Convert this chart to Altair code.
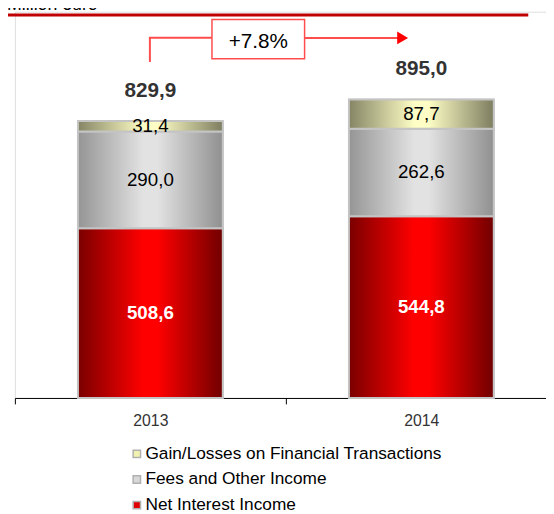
import altair as alt
import pandas as pd

FONT = "Liberation Sans"

years = ["2013", "2014"]
series = ["Gain/Losses on Financial Transactions", "Fees and Other Income", "Net Interest Income"]
net_interest = [508.6, 544.8]
fees = [290.0, 262.6]
gains = [31.4, 87.7]
totals = [829.9, 895.0]
growth_label = ["+7.8%"]
unit_label = ["Million euro"]

rows = []
for i, yr in enumerate(years):
    rows.append({"year": yr, "series": series[2], "value": net_interest[i], "order": 0})
    rows.append({"year": yr, "series": series[1], "value": fees[i], "order": 1})
    rows.append({"year": yr, "series": series[0], "value": gains[i], "order": 2})
df = pd.DataFrame(rows)
tot_df = pd.DataFrame({"year": years, "total": totals})

x_scale = alt.Scale(domain=years, paddingInner=0.4655, paddingOuter=0.2127, align=0.547)
y_scale = alt.Scale(domain=[0, 1158], nice=False, zero=True)

x_enc = alt.X(
    "year:N",
    scale=x_scale,
    axis=alt.Axis(
        title=None, labelAngle=0, domainColor="black", tickColor="black",
        tickSize=6, tickOffset=-137.5, labelOffset=137.5,
        labelFontSize=16, labelColor="#333333", labelFont=FONT, labelPadding=9,
        domainWidth=1, tickWidth=1, grid=False,
    ),
)

base = alt.Chart(df).transform_stack(
    stack="value", groupby=["year"], as_=["y0", "y1"],
    sort=[alt.SortField("order", order="ascending")],
).transform_calculate(
    mid="(datum.y0 + datum.y1) / 2",
    label="replace(format(datum.value, '.1f'), '.', ',')",
)


def grad(edge_l, center, edge_r, c0=0.45, c1=0.55):
    return alt.Gradient(
        gradient="linear", x1=0, x2=1, y1=0, y2=0,
        stops=[
            alt.GradientStop(offset=0, color=edge_l),
            alt.GradientStop(offset=c0, color=center),
            alt.GradientStop(offset=c1, color=center),
            alt.GradientStop(offset=1, color=edge_r),
        ],
    )


legend_layer = base.mark_bar(stroke="#b0b0b0", strokeWidth=1.5).encode(
    x=x_enc,
    y=alt.Y("y0:Q", scale=y_scale, axis=None),
    y2="y1:Q",
    fill=alt.Fill(
        "series:N",
        scale=alt.Scale(domain=series, range=["#f2f2b0", "#d8d8d8", "#e00000"]),
        legend=alt.Legend(
            title=None, orient="none", legendX=115, legendY=440, direction="vertical",
            symbolType="square", symbolSize=56, symbolStrokeWidth=1.5, symbolStrokeColor="#b0b0b0",
            labelFontSize=17.5, labelFont=FONT, labelColor="black", rowPadding=7, labelOffset=0,
            padding=0, labelLimit=400,
        ),
    ),
)

gradients = {
    series[2]: grad("#7a0000", "#ff0000", "#700000"),
    series[1]: grad("#959595", "#e2e2e2", "#909090"),
    series[0]: grad("#858565", "#fdfdc5", "#7d7d60"),
}

grad_layers = []
for name in [series[2], series[1], series[0]]:
    grad_layers.append(
        base.transform_filter(alt.datum.series == name)
        .mark_bar(fill=gradients[name], stroke="#c4c4c4", strokeWidth=2)
        .encode(x=x_enc, y=alt.Y("y0:Q", scale=y_scale, axis=None), y2="y1:Q")
    )

dark_labels = base.transform_filter(alt.datum.series != series[2]).mark_text(
    fontSize=19, color="black", baseline="middle", font=FONT
).encode(x=x_enc, y=alt.Y("mid:Q", scale=y_scale, axis=None), text="label:N")

white_labels = base.transform_filter(alt.datum.series == series[2]).mark_text(
    fontSize=19, color="white", fontWeight="bold", baseline="middle", font=FONT
).encode(x=x_enc, y=alt.Y("mid:Q", scale=y_scale, axis=None), text="label:N")

total_labels = alt.Chart(tot_df).transform_calculate(
    label="replace(format(datum.total, '.1f'), '.', ',')"
).mark_text(
    fontSize=21, fontWeight="bold", color="#333333", dy=-25, baseline="alphabetic", font=FONT
).encode(x=x_enc, y=alt.Y("total:Q", scale=y_scale, axis=None), text="label:N")

ann = alt.Chart(pd.DataFrame({"label": growth_label}))
LINE = "#ff4d4d"
vline = ann.mark_rule(color=LINE, strokeWidth=2).encode(
    x=alt.value(137), y=alt.value(26.3), y2=alt.value(51)
)
hline1 = ann.mark_rule(color=LINE, strokeWidth=2).encode(
    x=alt.value(136), x2=alt.value(200), y=alt.value(26.5)
)
hline2 = ann.mark_rule(color=LINE, strokeWidth=2).encode(
    x=alt.value(294), x2=alt.value(390), y=alt.value(26.7)
)
box = ann.mark_rect(fill="white", stroke=LINE, strokeWidth=1.5).encode(
    x=alt.value(200), x2=alt.value(294), y=alt.value(8), y2=alt.value(47.7)
)
box_text = ann.mark_text(fontSize=21, color="black", baseline="alphabetic", font=FONT).encode(
    x=alt.value(247), y=alt.value(37), text="label:N"
)
arrow = ann.mark_point(
    shape="M-0.85,-1L0.85,0L-0.85,1Z", size=169, filled=True, color="#ff0000", opacity=1
).encode(x=alt.value(393.5), y=alt.value(26.6))

hdr = alt.Chart(pd.DataFrame({"label": unit_label}))
hdr_text = hdr.mark_text(align="right", baseline="alphabetic", fontSize=18, color="black", font=FONT).encode(
    x=alt.value(84), y=alt.value(-2), text="label:N"
)
hdr_line = hdr.mark_rule(color="#c00000", strokeWidth=3).encode(
    x=alt.value(-15), x2=alt.value(521), y=alt.value(3.3)
)

chart = alt.layer(
    legend_layer, *grad_layers, dark_labels, white_labels, total_labels,
    vline, hline1, hline2, box, box_text, arrow, hdr_text, hdr_line,
).properties(
    width=539, height=392,
    autosize=alt.AutoSizeParams(type="none"),
    padding={"left": 7, "top": 0, "right": 0, "bottom": 114},
).configure_view(stroke=None).configure(font=FONT)

chart.save("out.html", embed_options={"renderer": "svg", "actions": False})
